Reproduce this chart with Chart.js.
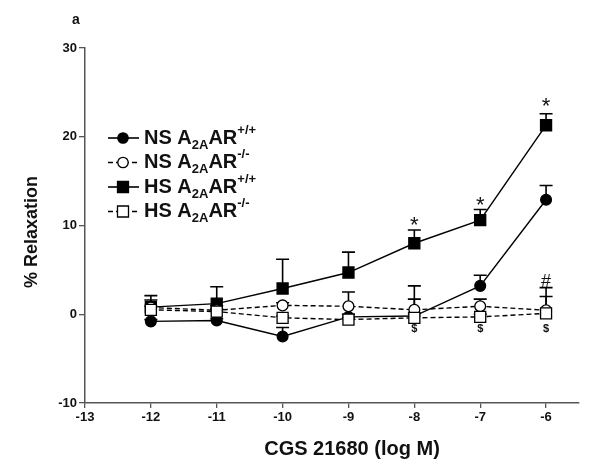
<!DOCTYPE html>
<html>
<head>
<meta charset="utf-8">
<script src="https://cdn.jsdelivr.net/npm/chart.js@4.4.1/dist/chart.umd.min.js"></script>
<style>
  body { margin: 0; background: #fff; }
  #wrap { width: 600px; height: 475px; position: relative; }
</style>
</head>
<body>
<div id="wrap"><canvas id="chart"></canvas></div>
<script>
// log dose of CGS 21680
const doses = [-12, -11, -10, -9, -8, -7, -6];

const nsWT = [-0.8, -0.7, -2.5, -0.3, -0.2, 3.2, 12.9];
const nsWTErr = [0.2, 0.2, 1.0, 0.3, 0.3, 1.2, 1.6];
const nsKO = [0.75, 0.45, 1.0, 0.9, 0.5, 0.9, 0.45];
const nsKOErr = [0.85, 0.5, 0.3, 1.6, 2.7, 0.8, 2.55];
const hsWT = [0.8, 1.2, 2.9, 4.7, 8.0, 10.6, 21.3];
const hsWTErr = [1.3, 1.9, 3.3, 2.3, 1.5, 1.2, 1.3];
const hsKO = [0.5, 0.3, -0.4, -0.6, -0.4, -0.3, 0.1];
const hsKOErr = [0.4, 0.3, 0.2, 0.2, 2.1, 0.3, 1.9];

const xTicks = [-13, -12, -11, -10, -9, -8, -7, -6];
const yTicks = [-10, 0, 10, 20, 30];

// significance marks (x = dose, y = value)
const markText = ['*', '*', '*', '#', '$', '$', '$'];
const markX = [-8, -7, -6, -6, -8, -7, -6];
const markY = [10.4, 12.7, 23.8, 3.6, -1.7, -1.7, -1.7];

// legend names: [prefix, subscript, middle, superscript]
const names = [
  ['NS A', '2A', 'AR', '+/+'],
  ['NS A', '2A', 'AR', '-/-'],
  ['HS A', '2A', 'AR', '+/+'],
  ['HS A', '2A', 'AR', '-/-']
];

const FONT = '"Liberation Sans", Arial, sans-serif';

function pts(vals) {
  return doses.map((d, i) => ({ x: d, y: vals[i] }));
}

function series(label, vals, errs, style, filled, dashed) {
  return {
    label: label,
    data: pts(vals),
    errs: errs,
    borderColor: '#000',
    borderWidth: 1.4,
    borderDash: dashed ? [5, 3] : [],
    pointStyle: style,
    pointRadius: style === 'rect' ? 7.8 : 5.4,
    pointBorderWidth: 1.3,
    pointBorderColor: '#000',
    pointBackgroundColor: filled ? '#000' : '#fff',
    fill: false,
    tension: 0
  };
}

const datasets = [
  series('HS -/-', hsKO, hsKOErr, 'rect', false, true),
  series('NS -/-', nsKO, nsKOErr, 'circle', false, true),
  series('NS +/+', nsWT, nsWTErr, 'circle', true, false),
  series('HS +/+', hsWT, hsWTErr, 'rect', true, false)
];
// legend order
const legendOrder = [2, 1, 3, 0];

const errorBars = {
  id: 'errorBars',
  beforeDatasetsDraw(chart) {
    const ctx = chart.ctx;
    const xs = chart.scales.x, ys = chart.scales.y;
    ctx.save();
    ctx.strokeStyle = '#000';
    ctx.lineWidth = 1.6;
    chart.data.datasets.forEach(ds => {
      ds.data.forEach((p, i) => {
        const e = ds.errs[i];
        const px = xs.getPixelForValue(p.x);
        const y0 = ys.getPixelForValue(p.y);
        const y1 = ys.getPixelForValue(p.y + e);
        ctx.beginPath();
        ctx.moveTo(px, y0);
        ctx.lineTo(px, y1);
        ctx.moveTo(px - 6.5, y1);
        ctx.lineTo(px + 6.5, y1);
        ctx.stroke();
      });
    });
    ctx.restore();
  }
};

function drawName(ctx, parts, x, y) {
  ctx.textBaseline = 'middle';
  ctx.textAlign = 'left';
  ctx.font = 'bold 20px ' + FONT;
  ctx.fillText(parts[0], x, y);
  x += ctx.measureText(parts[0]).width;
  ctx.font = 'bold 13px ' + FONT;
  ctx.fillText(parts[1], x, y + 7);
  x += ctx.measureText(parts[1]).width;
  ctx.font = 'bold 20px ' + FONT;
  ctx.fillText(parts[2], x, y);
  x += ctx.measureText(parts[2]).width;
  ctx.font = 'bold 13px ' + FONT;
  ctx.fillText(parts[3], x, y - 8);
}

const extras = {
  id: 'extras',
  afterDraw(chart) {
    const ctx = chart.ctx;
    const a = chart.chartArea;
    const xs = chart.scales.x, ys = chart.scales.y;
    ctx.save();
    ctx.fillStyle = '#111';

    // significance marks
    ctx.textAlign = 'center';
    ctx.textBaseline = 'middle';
    markText.forEach((t, i) => {
      ctx.font = (t === '$' ? 'bold 11px ' : t === '#' ? '18px ' : '22px ') + FONT;
      const off = t === '*' ? 4 : 0;
      ctx.fillText(t, xs.getPixelForValue(markX[i]), ys.getPixelForValue(markY[i]) + off);
    });

    // panel letter
    ctx.font = 'bold 14px ' + FONT;
    ctx.fillText('a', a.left - 9, 20);

    // axis titles
    ctx.font = 'bold 20px ' + FONT;
    ctx.fillText('CGS 21680 (log M)', 352, 449);
    ctx.save();
    ctx.translate(32, 232);
    ctx.rotate(-Math.PI / 2);
    ctx.font = 'bold 18px ' + FONT;
    ctx.fillText('% Relaxation', 0, 0);
    ctx.restore();

    // legend
    const lx = a.left + 23;
    legendOrder.forEach((di, r) => {
      const ds = chart.data.datasets[di];
      const y = 138 + r * 24.5;
      ctx.strokeStyle = '#000';
      ctx.lineWidth = 1.6;
      ctx.setLineDash(ds.borderDash.length ? [5, 3] : []);
      ctx.beginPath();
      ctx.moveTo(lx, y);
      ctx.lineTo(lx + 31, y);
      ctx.stroke();
      ctx.setLineDash([]);
      const mx = lx + 15;
      ctx.fillStyle = ds.pointBackgroundColor;
      ctx.lineWidth = 1.3;
      ctx.beginPath();
      if (ds.pointStyle === 'rect') {
        ctx.rect(mx - 5.5, y - 5.5, 11, 11);
      } else {
        ctx.arc(mx, y, 5.2, 0, Math.PI * 2);
      }
      ctx.fill();
      ctx.stroke();
      ctx.fillStyle = '#111';
      drawName(ctx, names[r], lx + 36, y);
    });
    ctx.restore();
  }
};

const tickFont = { family: FONT, size: 13, weight: 'bold' };

new Chart(document.getElementById('chart'), {
  type: 'line',
  data: { datasets: datasets },
  options: {
    responsive: true,
    maintainAspectRatio: false,
    animation: false,
    layout: { padding: { top: 48, right: 21, left: 0, bottom: 0 } },
    plugins: { legend: { display: false }, tooltip: { enabled: false } },
    scales: {
      x: {
        type: 'linear',
        min: -13,
        max: -5.5,
        afterBuildTicks: s => { s.ticks = xTicks.map(v => ({ value: v })); },
        afterFit: s => { s.height = 72; },
        grid: { display: true, drawOnChartArea: false, drawTicks: true, tickLength: 5, color: '#555', lineWidth: 1.3 },
        border: { display: true, color: '#555', width: 1.5 },
        ticks: { color: '#111', font: tickFont, padding: 2, maxRotation: 0 }
      },
      y: {
        type: 'linear',
        min: -10,
        max: 30,
        afterBuildTicks: s => { s.ticks = yTicks.map(v => ({ value: v })); },
        afterFit: s => { s.width = 85; },
        grid: { display: true, drawOnChartArea: false, drawTicks: true, tickLength: 6, color: '#555', lineWidth: 1.3 },
        border: { display: true, color: '#555', width: 1.5 },
        ticks: { color: '#111', font: tickFont, padding: 2 }
      }
    }
  },
  plugins: [errorBars, extras]
});
</script>
</body>
</html>
